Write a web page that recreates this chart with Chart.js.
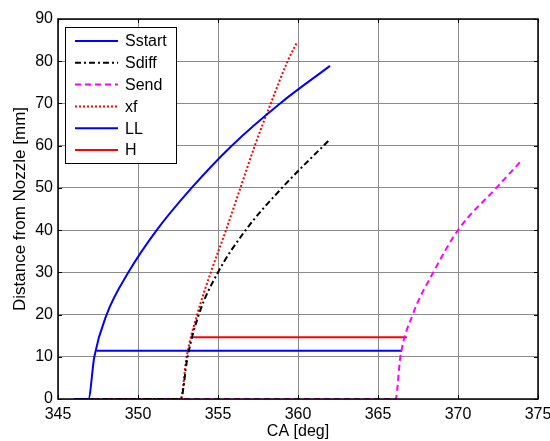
<!DOCTYPE html>
<html>
<head>
<meta charset="utf-8">
<script src="https://cdn.jsdelivr.net/npm/chart.js@4"></script>
<style>
  html, body { margin: 0; padding: 0; background: #fff; }
  #wrap { width: 550px; height: 441px; }
</style>
</head>
<body>
<div id="wrap"><canvas id="myChart" width="550" height="441"></canvas></div>
<script>
// values
const sstartX = [346, 346.9, 347.27, 348.04, 349.4, 351.17, 353.35, 355.86, 358.88, 362];
const sstartY = [0, 0, 10, 20, 30, 40, 50, 60, 70, 78.9];

const sdiffX = [346, 352.67, 353.1, 353.8, 355.0, 356.73, 359.0, 361.94];
const sdiffY = [0, 0, 10, 20, 30, 40, 50, 61.3];

const sendX = [346, 366.1, 366.4, 367.17, 368.46, 370.0, 372.4, 374.0];
const sendY = [0, 0, 10, 20, 30, 40, 50, 56.6];

const xfX = [346, 352.67, 353.04, 353.7, 354.55, 355.5, 356.4, 357.3, 358.3, 359.35, 359.9];
const xfY = [0, 0, 10, 20, 30, 40, 50, 60, 70, 80, 84.2];

const llX = [347.4, 366.5];
const llY = [11.4, 11.4];

const hX = [353.4, 366.8];
const hY = [14.6, 14.6];

const xTicks = [345, 350, 355, 360, 365, 370, 375];
const yTicks = [0, 10, 20, 30, 40, 50, 60, 70, 80, 90];

function pts(xs, ys) {
    return xs.map((x, i) => ({ x: x, y: ys[i] }));
}

const FONT = 'Liberation Sans, Arial, sans-serif';

// box around the plot with inward tick marks, like the original
const boxPlugin = {
    id: 'box',
    afterDraw(chart) {
        const ctx = chart.ctx;
        const a = chart.chartArea;
        const xs = chart.scales.x, ys = chart.scales.y;
        ctx.save();
        ctx.strokeStyle = '#000';
        ctx.lineWidth = 1;
        ctx.beginPath();
        xTicks.forEach(v => {
            const px = Math.round(xs.getPixelForValue(v)) + 0.5;
            ctx.moveTo(px, a.bottom); ctx.lineTo(px, a.bottom - 4);
            ctx.moveTo(px, a.top); ctx.lineTo(px, a.top + 4);
        });
        yTicks.forEach(v => {
            const py = Math.round(ys.getPixelForValue(v)) + 0.5;
            ctx.moveTo(a.left, py); ctx.lineTo(a.left + 4, py);
            ctx.moveTo(a.right, py); ctx.lineTo(a.right - 4, py);
        });
        ctx.stroke();
        ctx.lineWidth = 1.5;
        ctx.strokeRect(a.left, a.top, a.right - a.left, a.bottom - a.top);
        ctx.restore();
    }
};

// legend drawn inside the plot, top-left
const legendBox = {
    id: 'legendBox',
    afterDraw(chart) {
        const ctx = chart.ctx;
        const a = chart.chartArea;
        const x0 = a.left + 7, y0 = a.top + 8, w = 111, h = 136;
        ctx.save();
        ctx.fillStyle = '#fff';
        ctx.fillRect(x0, y0, w, h);
        ctx.strokeStyle = '#000';
        ctx.lineWidth = 1;
        ctx.strokeRect(x0 + 0.5, y0 + 0.5, w, h);
        ctx.font = '16px ' + FONT;
        ctx.textBaseline = 'middle';
        chart.data.datasets.forEach((ds, i) => {
            const yy = y0 + 14 + i * 21.8;
            ctx.strokeStyle = ds.borderColor;
            ctx.lineWidth = ds.borderWidth;
            ctx.setLineDash(ds.borderDash || []);
            ctx.beginPath();
            ctx.moveTo(x0 + 10, yy);
            ctx.lineTo(x0 + 53, yy);
            ctx.stroke();
            ctx.setLineDash([]);
            ctx.fillStyle = '#000';
            ctx.fillText(ds.label, x0 + 60, yy + 1);
        });
        ctx.restore();
    }
};

const ctxEl = document.getElementById('myChart');

new Chart(ctxEl, {
    type: 'line',
    data: {
        datasets: [
            { label: 'Sstart', data: pts(sstartX, sstartY), borderColor: '#0000ff', borderWidth: 2 },
            { label: 'Sdiff', data: pts(sdiffX, sdiffY), borderColor: '#000000', borderWidth: 2, borderDash: [6, 3, 2, 3] },
            { label: 'Send', data: pts(sendX, sendY), borderColor: '#ff00ff', borderWidth: 2, borderDash: [6, 4] },
            { label: 'xf', data: pts(xfX, xfY), borderColor: '#ff0000', borderWidth: 2, borderDash: [2, 2] },
            { label: 'LL', data: pts(llX, llY), borderColor: '#0000ff', borderWidth: 2 },
            { label: 'H', data: pts(hX, hY), borderColor: '#ff0000', borderWidth: 2 }
        ]
    },
    options: {
        responsive: false,
        animation: false,
        elements: {
            point: { radius: 0 },
            line: { cubicInterpolationMode: 'monotone', fill: false }
        },
        layout: { padding: { top: 19, right: 12, left: 0, bottom: 0 } },
        plugins: {
            legend: { display: false },
            tooltip: { enabled: false }
        },
        scales: {
            x: {
                type: 'linear',
                min: 345,
                max: 375,
                afterBuildTicks: s => { s.ticks = xTicks.map(v => ({ value: v })); },
                afterFit: s => { s.height = 42; s.paddingLeft = 0; s.paddingRight = 0; },
                ticks: { color: '#000', font: { family: FONT, size: 16 }, padding: 6, maxRotation: 0 },
                grid: { color: '#8c8c8c', drawTicks: false },
                border: { display: false },
                title: { display: true, text: 'CA [deg]', color: '#000', font: { family: FONT, size: 16 }, padding: { top: -3, bottom: 0 } }
            },
            y: {
                min: 0,
                max: 90,
                afterBuildTicks: s => { s.ticks = yTicks.map(v => ({ value: v })); },
                afterFit: s => { s.width = 58; s.paddingTop = 0; s.paddingBottom = 0; },
                ticks: { color: '#000', font: { family: FONT, size: 16 }, padding: 5 },
                grid: { color: '#8c8c8c', drawTicks: false },
                border: { display: false },
                title: { display: true, text: 'Distance from Nozzle [mm]', color: '#000', font: { family: FONT, size: 17 }, padding: { top: 10, bottom: 0 } }
            }
        }
    },
    plugins: [boxPlugin, legendBox]
});
</script>
</body>
</html>
